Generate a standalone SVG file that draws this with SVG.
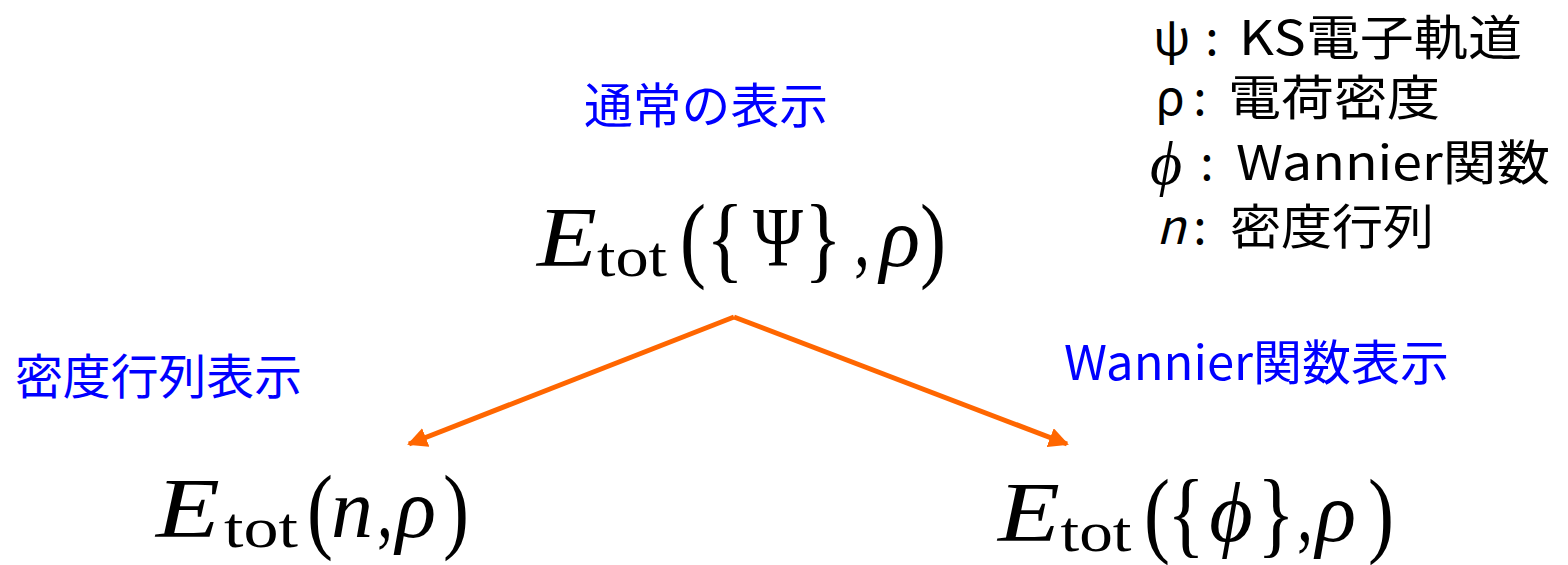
<svg xmlns="http://www.w3.org/2000/svg" width="1568" height="565" viewBox="0 0 1568 565">
<style>
.lbl{font-family:"Noto Sans CJK JP","Noto Sans",sans-serif;font-size:48px;fill:#0000ff}
.leg{font-family:"Noto Sans CJK JP","Noto Sans",sans-serif;font-size:48px;fill:#000}
.legi{font-family:"Liberation Serif","DejaVu Serif",serif;font-style:italic;font-size:62px}
.c{text-anchor:middle}
.m{font-family:"Liberation Serif","DejaVu Serif",serif;font-size:84px;fill:#000}
.mi{font-style:italic}
.sub{font-size:58px}
.br{font-size:96px}
.conn{stroke:#ff6600;stroke-width:5;fill:none;marker-end:url(#ah)}
</style>
<defs>
<marker id="ah" viewBox="0 0 10 10" refX="9" refY="5" markerWidth="4" markerHeight="4" orient="auto">
<path d="M0,0 L10,5 L0,10 z" fill="#ff6600"/>
</marker>
</defs>
<rect width="1568" height="565" fill="#fff"/>

<g id="legend">
<text class="leg"><tspan class="c" x="1172" y="55">ψ</tspan><tspan class="c" x="1212" y="55">:</tspan><tspan x="1239" y="55" textLength="283" lengthAdjust="spacingAndGlyphs">KS電子軌道</tspan></text>
<text class="leg"><tspan class="c" x="1170" y="115">ρ</tspan><tspan class="c" x="1200" y="115">:</tspan><tspan x="1228" y="115" textLength="212" lengthAdjust="spacingAndGlyphs">電荷密度</tspan></text>
<text class="leg"><tspan class="c legi" x="1166" y="184">ϕ</tspan><tspan class="c" x="1207" y="180">:</tspan><tspan x="1236" y="180" textLength="314" lengthAdjust="spacingAndGlyphs">Wannier関数</tspan></text>
<text class="leg"><tspan class="c" x="1171" y="244" font-style="italic">n</tspan><tspan class="c" x="1200" y="244">:</tspan><tspan x="1230" y="244" textLength="204" lengthAdjust="spacingAndGlyphs">密度行列</tspan></text>
</g>

<g id="label-normal">
<text class="lbl" x="584" y="123" textLength="244" lengthAdjust="spacingAndGlyphs">通常の表示</text>
</g>
<g id="label-density">
<text class="lbl" x="15" y="394" textLength="287" lengthAdjust="spacingAndGlyphs">密度行列表示</text>
</g>
<g id="label-wannier">
<text class="lbl" x="1064" y="380" textLength="385" lengthAdjust="spacingAndGlyphs">Wannier関数表示</text>
</g>

<g id="node-top">
<text class="m"><tspan class="c mi" x="567" y="266" textLength="60" lengthAdjust="spacingAndGlyphs">E</tspan><tspan class="c sub" x="632" y="276" textLength="70" lengthAdjust="spacingAndGlyphs">tot</tspan><tspan class="c br" x="693" y="270" textLength="26" lengthAdjust="spacingAndGlyphs">(</tspan><tspan class="c br" x="725" y="270" textLength="38" lengthAdjust="spacingAndGlyphs">{</tspan><tspan class="c" x="778" y="266" textLength="50" lengthAdjust="spacingAndGlyphs">Ψ</tspan><tspan class="c br" x="823" y="270" textLength="38" lengthAdjust="spacingAndGlyphs">}</tspan><tspan class="c" x="862" y="266" textLength="16" lengthAdjust="spacingAndGlyphs">,</tspan><tspan class="c mi" x="900" y="266">ρ</tspan><tspan class="c br" x="933" y="270" textLength="26" lengthAdjust="spacingAndGlyphs">)</tspan></text>
</g>

<g id="node-left">
<text class="m"><tspan class="c mi" x="188" y="537" textLength="64" lengthAdjust="spacingAndGlyphs">E</tspan><tspan class="c sub" x="261" y="547" textLength="74" lengthAdjust="spacingAndGlyphs">tot</tspan><tspan class="c br" x="320" y="541" textLength="26" lengthAdjust="spacingAndGlyphs">(</tspan><tspan class="c mi" x="352" y="537">n</tspan><tspan class="c" x="385" y="537" textLength="16" lengthAdjust="spacingAndGlyphs">,</tspan><tspan class="c mi" x="416" y="537">ρ</tspan><tspan class="c br" x="456" y="541" textLength="26" lengthAdjust="spacingAndGlyphs">)</tspan></text>
</g>

<g id="node-right">
<text class="m"><tspan class="c mi" x="1029" y="541" textLength="62" lengthAdjust="spacingAndGlyphs">E</tspan><tspan class="c sub" x="1096" y="551" textLength="71" lengthAdjust="spacingAndGlyphs">tot</tspan><tspan class="c br" x="1157" y="545" textLength="26" lengthAdjust="spacingAndGlyphs">(</tspan><tspan class="c br" x="1186" y="545" textLength="38" lengthAdjust="spacingAndGlyphs">{</tspan><tspan class="c mi" x="1231" y="541">ϕ</tspan><tspan class="c br" x="1276" y="545" textLength="38" lengthAdjust="spacingAndGlyphs">}</tspan><tspan class="c" x="1305" y="541" textLength="16" lengthAdjust="spacingAndGlyphs">,</tspan><tspan class="c mi" x="1336" y="541">ρ</tspan><tspan class="c br" x="1381" y="545" textLength="26" lengthAdjust="spacingAndGlyphs">)</tspan></text>
</g>

<g id="connectors">
<line class="conn" x1="734" y1="317" x2="409" y2="444"/>
<line class="conn" x1="734" y1="317" x2="1067" y2="444"/>
</g>
</svg>
